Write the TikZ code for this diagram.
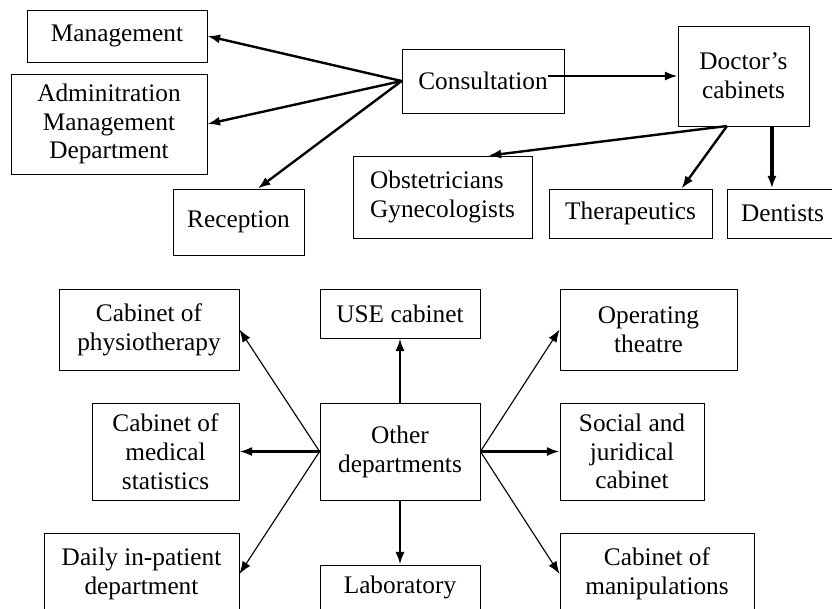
\documentclass[tikz,border=0pt]{standalone}
\usepackage{fontspec}
\setmainfont{Liberation Serif}
\usetikzlibrary{arrows.meta}
\begin{document}
\begin{tikzpicture}[
    box/.style={draw, line width=0.6pt, align=center, inner sep=2pt,
        font=\fontsize{18}{20.5}\selectfont},
    arr/.style={line width=1.7pt, -{Latex[length=9pt,width=6.5pt]}},
    thinarr/.style={line width=0.8pt, -{Latex[length=9pt,width=6.5pt]}}
]
                \clip (0, 0) rectangle (20.8, -15.2);
                \useasboundingbox (0, 0) rectangle (20.8, -15.2);

                \node[box, minimum width=4.5cm, minimum height=1.3cm] (mgmt) at (2.925, -0.9) {Management};
                \node[box, minimum width=4.9cm, minimum height=2.5cm] (admin) at (2.725, -3.1) {Adminitration\\Management\\Department};
                \node[box, minimum width=3.275cm, minimum height=1.65cm] (recep) at (5.9625, -5.55) {Reception};
                \node[box, minimum width=4.05cm, minimum height=1.6cm] (consult) at (12.075, -2.025) {Consultation};
                \node[box, minimum width=3.275cm, minimum height=2.5cm] (doctor) at (18.5875, -1.9) {Doctor's\\cabinets};
                \node[box, align=left, minimum width=4.475cm, minimum height=2.05cm] (obst) at (11.0625, -4.925) {Obstetricians\\Gynecologists};
                \node[box, minimum width=4.075cm, minimum height=1.225cm] (thera) at (15.7625, -5.3375) {Therapeutics};
                \node[box, minimum width=2.775cm, minimum height=1.225cm] (dent) at (19.5625, -5.3375) {Dentists};

                \coordinate (cstart) at (13.7, -1.9);
                \coordinate (dsplit) at (18.175, -3.15);

                \draw[arr] (consult.west) -- (mgmt.east);
                \draw[arr] (consult.west) -- (admin.east);
                \draw[arr] (consult.west) -- (recep.60);
                \draw[arr] (cstart) -- (doctor.west);
                \draw[arr] (dsplit) -- (obst.42);
                \draw[arr] (dsplit) -- (thera.26);
                \draw[arr, line width=2.4pt] (dent.113 |- doctor.south) -- (dent.113);

                \node[box, minimum width=4.5cm, minimum height=2.025cm] (physio) at (3.725, -8.2375) {Cabinet of\\physiotherapy};
                \node[box, minimum width=3.675cm, minimum height=2.425cm] (stats) at (4.1375, -11.2875) {Cabinet of\\medical\\statistics};
                \node[box, minimum width=4.875cm, minimum height=2.05cm] (daily) at (3.5375, -14.35) {Daily in-patient\\department};
                \node[box, minimum width=4cm, minimum height=1.225cm] (use) at (10, -7.8375) {USE cabinet};
                \node[box, minimum width=4cm, minimum height=2.425cm] (other) at (10, -11.2875) {Other\\departments};
                \node[box, minimum width=4cm, minimum height=1.1cm] (lab) at (10, -14.675) {Laboratory};
                \node[box, minimum width=4.425cm, minimum height=2.025cm] (oper) at (16.2125, -8.2375) {Operating\\theatre};
                \node[box, minimum width=3.6cm, minimum height=2.425cm] (social) at (15.8, -11.2875) {Social and\\juridical\\cabinet};
                \node[box, minimum width=4.85cm, minimum height=2.05cm] (manip) at (16.425, -14.35) {Cabinet of\\manipulations};

                \draw[thinarr] (other.west) -- (physio.east);
                \draw[arr] (other.west) -- (stats.east);
                \draw[thinarr] (other.west) -- (daily.east);
                \draw[arr] (other.north) -- (use.south);
                \draw[arr] (other.south) -- (lab.north);
                \draw[thinarr] (other.east) -- (oper.west);
                \draw[arr] (other.east) -- (social.west);
                \draw[thinarr] (other.east) -- (manip.west);
            \end{tikzpicture}
\end{document}
